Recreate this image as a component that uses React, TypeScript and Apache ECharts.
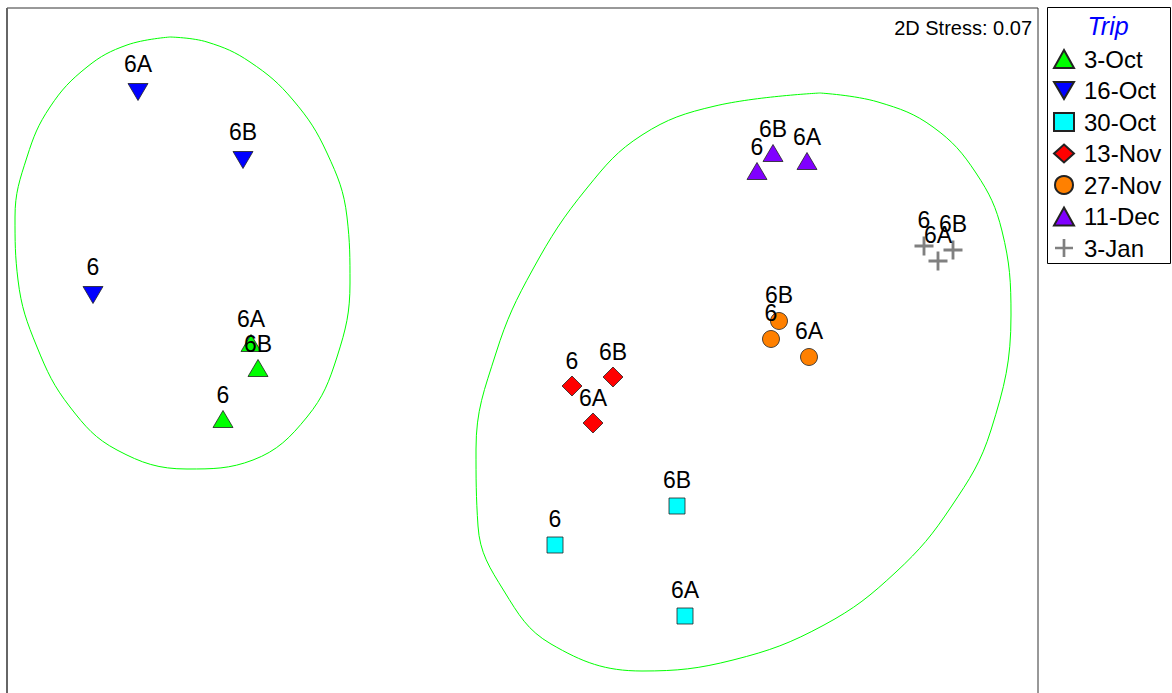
import React, { useEffect, useRef } from "react";
import * as echarts from "echarts";

// Ordination coordinates (plot units, y increasing downward)
const sites = ["6", "6A", "6B"];
const trips = ["3-Oct", "16-Oct", "30-Oct", "13-Nov", "27-Nov", "11-Dec", "3-Jan"];

const oct3X = [216, 244, 251];
const oct3Y = [411, 335, 360];
const oct16X = [86, 131, 236];
const oct16Y = [287, 84, 152];
const oct30X = [548, 678, 670];
const oct30Y = [537, 608, 498];
const nov13X = [565, 586, 606];
const nov13Y = [378, 415, 369];
const nov27X = [764, 802, 772];
const nov27Y = [331, 349, 313];
const dec11X = [750, 800, 766];
const dec11Y = [163, 153, 145];
const jan3X = [917, 931, 946];
const jan3Y = [238, 253, 242];

// Cluster outlines
const leftCluster = [
  [163, 29], [120, 37], [80, 59], [43, 99], [20, 149], [8, 209], [11, 272], [30, 339],
  [63, 399], [110, 442], [180, 461], [246, 452], [300, 409], [330, 349], [343, 275],
  [340, 209], [320, 145], [286, 92], [243, 54], [200, 34], [163, 29],
];
const rightCluster = [
  [813, 85], [708, 98], [635, 127], [580, 180], [526, 261], [489, 345], [469, 441],
  [471, 518], [497, 583], [544, 636], [635, 663], [726, 652], [817, 617], [889, 564],
  [944, 499], [984, 422], [1004, 307], [995, 223], [969, 165], [926, 119], [871, 94], [813, 85],
];

const stressText = "2D Stress: 0.07";
const legendTitle = "Trip";

const FONT = '"Liberation Sans", Arial, Helvetica, sans-serif';

const downTri = "path://M0,0L20,0L10,17Z";
const plus = "path://M8.5,0H11.5V20H8.5ZM0,8.5H20V11.5H0Z";

function pts(xs: number[], ys: number[]) {
  return xs.map((x, i) => ({ name: sites[i], value: [x, ys[i]] }));
}

export default function App() {
  const ref = useRef<HTMLDivElement>(null);
  useEffect(() => {
    const chart = echarts.init(ref.current!, undefined, { renderer: "svg" });
    const mk = (
      name: string,
      xs: number[],
      ys: number[],
      symbol: string,
      size: number | number[],
      color: string,
      off: number,
      border = true
    ) => ({
      type: "scatter",
      name,
      data: pts(xs, ys),
      symbol,
      symbolSize: size,
      z: 5,
      itemStyle: {
        color,
        opacity: 1,
        borderColor: border ? "#222" : color,
        borderWidth: border ? 0.8 : 0,
      },
      label: {
        show: true,
        position: "inside",
        offset: [0, off],
        formatter: "{b}",
        color: "#000",
        fontSize: 23,
        fontFamily: FONT,
      },
      emphasis: { disabled: true },
    });
    const outline = (data: number[][]) => ({
      type: "line",
      data,
      smooth: 0.4,
      symbol: "none",
      z: 2,
      lineStyle: { color: "#00FF00", width: 1 },
      emphasis: { disabled: true },
      silent: true,
    });
    chart.setOption({
      animation: false,
      grid: {
        left: 7,
        top: 8,
        width: 1031,
        height: 710,
        show: true,
        borderColor: "#333",
        borderWidth: 1,
        backgroundColor: "#fff",
      },
      xAxis: {
        type: "value",
        min: 0,
        max: 1031,
        show: false,
      },
      yAxis: {
        type: "value",
        min: 0,
        max: 710,
        inverse: true,
        show: false,
      },
      legend: {
        data: trips,
        orient: "vertical",
        left: 1053,
        top: 47,
        padding: 0,
        itemWidth: 20,
        itemHeight: 18,
        itemGap: 7.5,
        selectedMode: false,
        textStyle: {
          fontSize: 24,
          fontFamily: FONT,
          color: "#000",
          padding: [0, 0, 0, 5],
        },
      },
      graphic: [
        {
          type: "rect",
          shape: { x: 1047.5, y: 7.5, width: 123, height: 256 },
          style: { fill: "#fff", stroke: "#000", lineWidth: 1 },
          z: -1,
        },
        {
          type: "line",
          shape: { x1: 7, y1: 8, x2: 7, y2: 720 },
          style: { stroke: "#666", lineWidth: 2 },
          z: 10,
        },
        {
          type: "text",
          x: 1108,
          y: 26,
          style: {
            text: legendTitle,
            fill: "#0000FF",
            font: `italic 25px ${FONT}`,
            align: "center",
            verticalAlign: "middle",
          },
        },
        {
          type: "text",
          x: 1032,
          y: 28,
          style: {
            text: stressText,
            fill: "#000",
            font: `20px ${FONT}`,
            align: "right",
            verticalAlign: "middle",
          },
        },
      ],
      series: [
        outline(leftCluster),
        outline(rightCluster),
        mk(trips[0], oct3X, oct3Y, "triangle", [20, 17], "#00FF00", -24),
        mk(trips[1], oct16X, oct16Y, downTri, [20, 17], "#0000FF", -28),
        mk(trips[2], oct30X, oct30Y, "rect", 16, "#00FFFF", -26),
        mk(trips[3], nov13X, nov13Y, "diamond", 20, "#FF0000", -25),
        mk(trips[4], nov27X, nov27Y, "circle", 17, "#FF8000", -26),
        mk(trips[5], dec11X, dec11Y, "triangle", [20, 17], "#8000FF", -24),
        mk(trips[6], jan3X, jan3Y, plus, 19, "#808080", -26, false),
      ],
    });
    return () => chart.dispose();
  }, []);
  return (
    <div
      ref={ref}
      style={{ position: "absolute", left: 0, top: 0, width: 1172, height: 730, background: "#fff" }}
    />
  );
}
